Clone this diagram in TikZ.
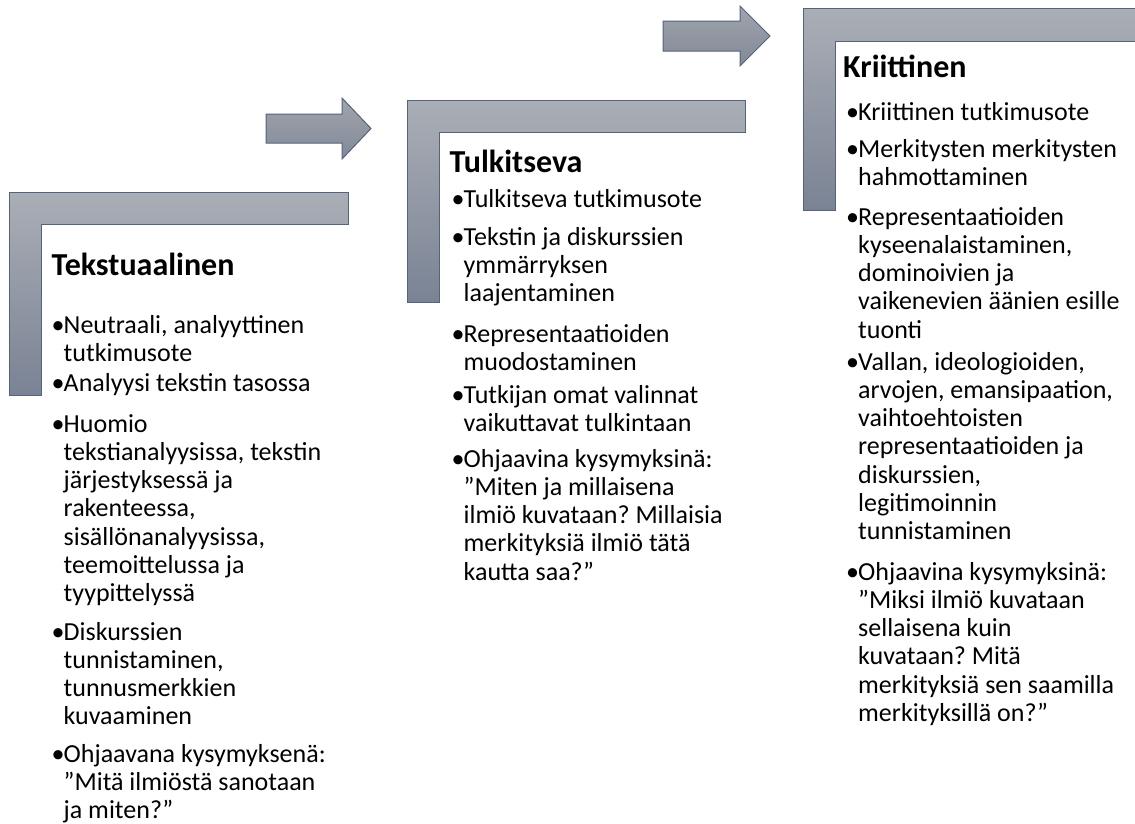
\documentclass[tikz,border=0pt]{standalone}
\usepackage{fontspec}
\setmainfont{Carlito}
\frenchspacing
\definecolor{Ltop}{RGB}{170,174,182}
\definecolor{Lbot}{RGB}{122,131,148}
\definecolor{Ledge}{RGB}{84,100,126}
\definecolor{Atop}{RGB}{160,164,172}
\definecolor{Abot}{RGB}{130,137,151}
\newcommand\mybul{\makebox[12pt][l]{•}}
\newcommand\myind{\hspace*{12pt}}
\newcommand\mylines[1]{\begin{tabular}[t]{@{}l@{}}#1\end{tabular}}
\tikzset{
 lshape/.style={top color=Ltop, bottom color=Lbot, draw=Ledge, line width=1pt},
 barrow/.style={top color=Atop, bottom color=Abot, draw=Ledge, line width=1pt},
 ttl/.style={font=\fontsize{32}{38}\selectfont\bfseries, anchor=base west, inner sep=0pt},
 itm/.style={font=\fontsize{26}{28.3}\selectfont\frenchspacing, anchor=base west, inner sep=0pt},
}
\begin{document}
\begin{tikzpicture}[x=1pt,y=-1pt]
\useasboundingbox (0,0) rectangle (1135,823);
\fill[white] (0,0) rectangle (1135,823);
% L shapes
\path[lshape] (9,192) -- (348,192) -- (348,224) -- (41,224) -- (41,395) -- (9,395) -- cycle;
\path[lshape] (407,100) -- (745,100) -- (745,132) -- (439,132) -- (439,302) -- (407,302) -- cycle;
\path[lshape] (803,8) -- (1141,8) -- (1141,41) -- (835,41) -- (835,210) -- (803,210) -- cycle;
% block arrows
\path[barrow] (266,114) -- (342,114) -- (342,98) -- (371,128.5) -- (342,159) -- (342,143) -- (266,143) -- cycle;
\path[barrow] (663,21) -- (740,21) -- (740,6) -- (770,36) -- (740,66) -- (740,51) -- (663,51) -- cycle;
% column 1
\node[ttl] (t1) at (51.5,275) {Tekstuaalinen};
\node[itm] (a1) at (51.5,333) {\mylines{\mybul Neutraali, analyyttinen\\\myind tutkimusote}};
\node[itm] (a2) at (51.5,391) {\mylines{\mybul Analyysi tekstin tasossa}};
\node[itm] (a3) at (51.5,432) {\mylines{\mybul Huomio\\\myind tekstianalyysissa, tekstin\\\myind järjestyksessä ja\\\myind rakenteessa,\\\myind sisällönanalyysissa,\\\myind teemoittelussa ja\\\myind tyypittelyssä}};
\node[itm] (a4) at (51.5,640) {\mylines{\mybul Diskurssien\\\myind tunnistaminen,\\\myind tunnusmerkkien\\\myind kuvaaminen}};
\node[itm] (a5) at (51.5,762) {\mylines{\mybul Ohjaavana kysymyksenä:\\\myind ”Mitä ilmiöstä sanotaan\\\myind ja miten?”}};
% column 2
\node[ttl] (t2) at (449.5,172) {Tulkitseva};
\node[itm] (b1) at (451.5,207) {\mylines{\mybul Tulkitseva tutkimusote}};
\node[itm] (b2) at (451.5,245) {\mylines{\mybul Tekstin ja diskurssien\\\myind ymmärryksen\\\myind laajentaminen}};
\node[itm] (b3) at (451.5,342) {\mylines{\mybul Representaatioiden\\\myind muodostaminen}};
\node[itm] (b4) at (451.5,403) {\mylines{\mybul Tutkijan omat valinnat\\\myind vaikuttavat tulkintaan}};
\node[itm] (b5) at (451.5,467) {\mylines{\mybul Ohjaavina kysymyksinä:\\\myind ”Miten ja millaisena\\\myind ilmiö kuvataan? Millaisia\\\myind merkityksiä ilmiö tätä\\\myind kautta saa?”}};
% column 3
\node[ttl] (t3) at (843,77) {Kriittinen};
\node[itm] (c1) at (846,120) {\mylines{\mybul Kriittinen tutkimusote}};
\node[itm] (c2) at (846,157) {\mylines{\mybul Merkitysten merkitysten\\\myind hahmottaminen}};
\node[itm] (c3) at (846,225) {\mylines{\mybul Representaatioiden\\\myind kyseenalaistaminen,\\\myind dominoivien ja\\\myind vaikenevien äänien esille\\\myind tuonti}};
\node[itm] (c4) at (846,370) {\mylines{\mybul Vallan, ideologioiden,\\\myind arvojen, emansipaation,\\\myind vaihtoehtoisten\\\myind representaatioiden ja\\\myind diskurssien,\\\myind legitimoinnin\\\myind tunnistaminen}};
\node[itm] (c5) at (846,580) {\mylines{\mybul Ohjaavina kysymyksinä:\\\myind ”Miksi ilmiö kuvataan\\\myind sellaisena kuin\\\myind kuvataan? Mitä\\\myind merkityksiä sen saamilla\\\myind merkityksillä on?”}};
\end{tikzpicture}
\end{document}
